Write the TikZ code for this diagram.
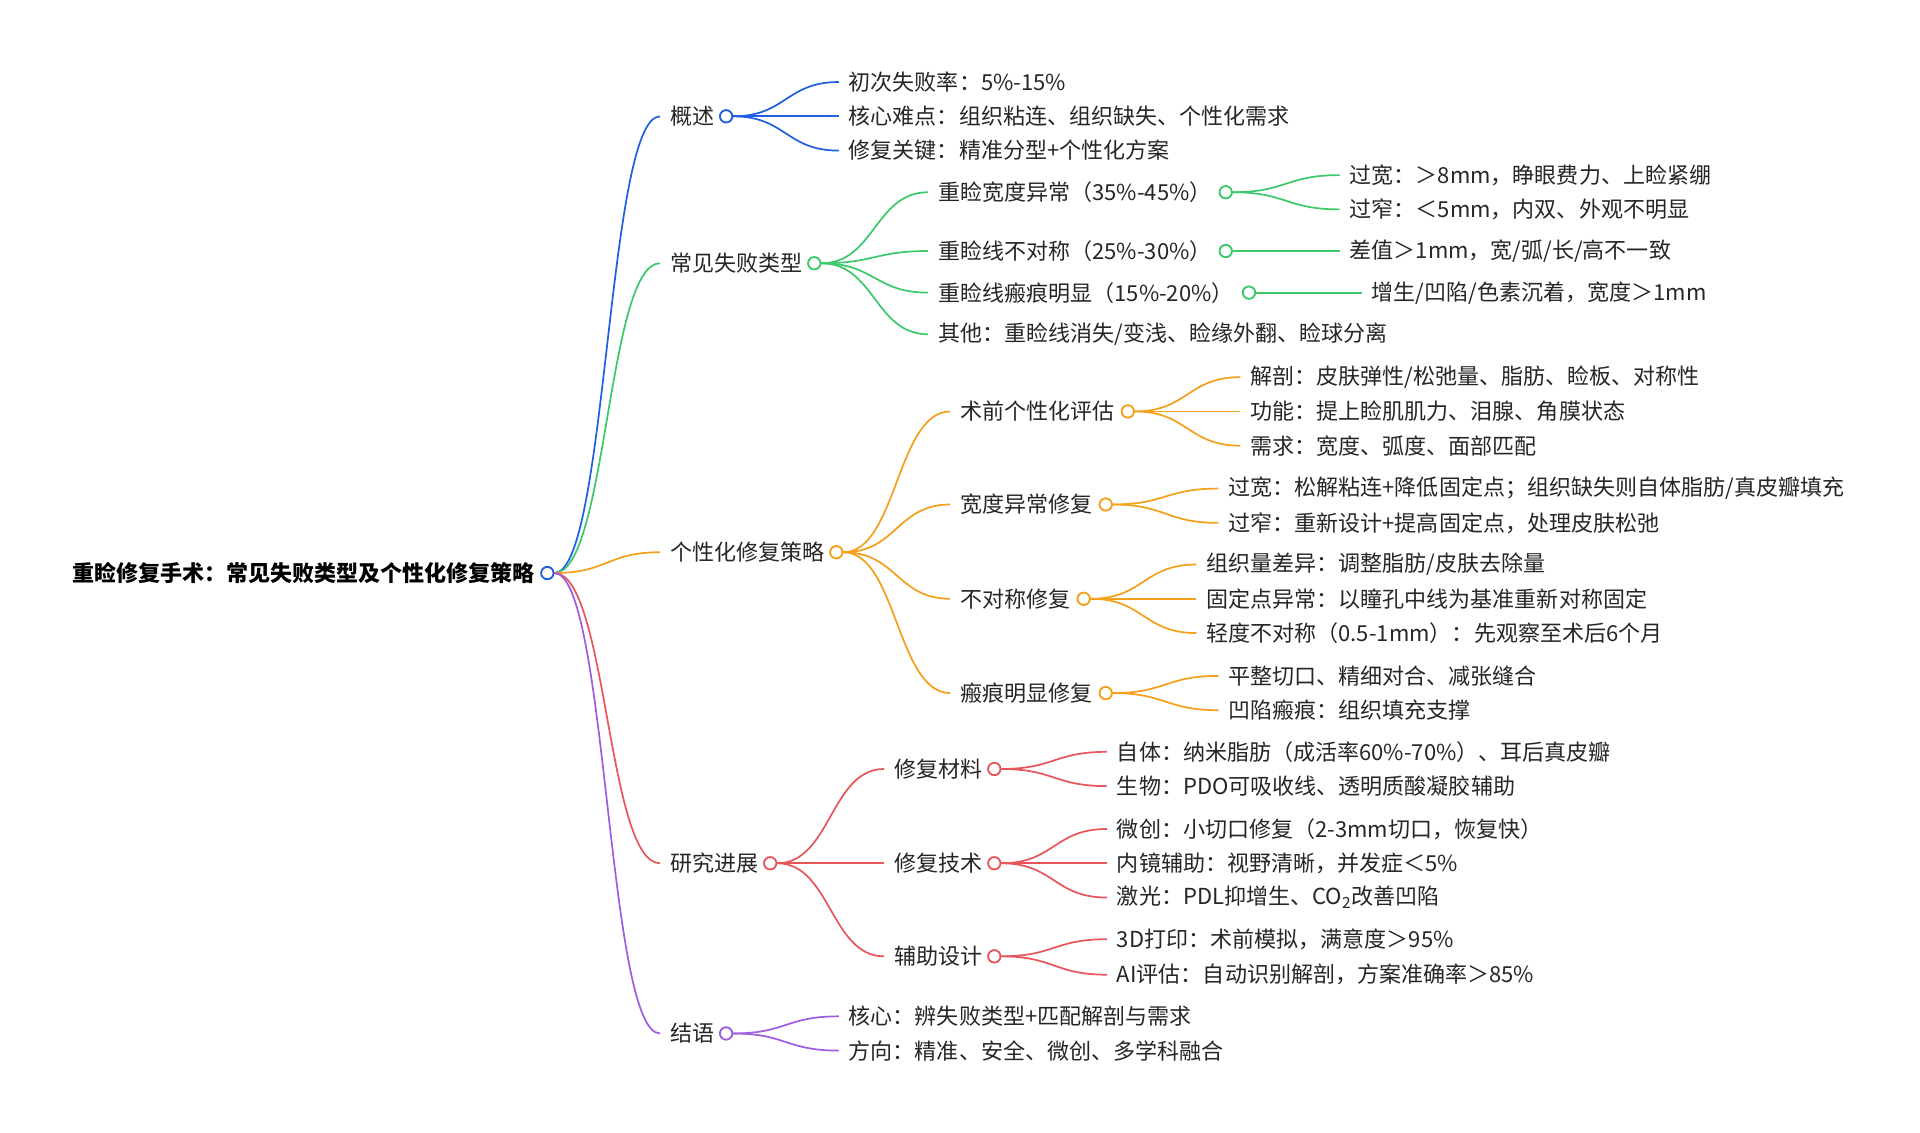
\documentclass[tikz,border=0pt]{standalone}
\usepackage{fontspec}
\usetikzlibrary{calc}
\setmainfont{Noto Sans CJK SC}
\definecolor{cb}{HTML}{1F5FE0}
\definecolor{cg}{HTML}{3CC96B}
\definecolor{co}{HTML}{F5A01A}
\definecolor{cr}{HTML}{E8565A}
\definecolor{cp}{HTML}{A05CE0}
\tikzset{
 lbl/.style={inner xsep=8pt,inner ysep=0pt,font=\fontsize{18}{21}\selectfont,text=black!85},
 dot/.style={circle,draw,fill=white,line width=1.4pt,minimum size=10pt,inner sep=0pt},
 conn/.style={line width=1.4pt}
}
\newcommand\leaf[5]{\node[lbl,anchor=west] (#1) at (#3-8,#4) {#5};
 \draw[conn] let \p1=(#2), \p2=(#1.west) in (\p1) .. controls ({0.5*\x1+0.5*\x2},\y1) and ({0.5*\x1+0.5*\x2},\y2) .. (\p2);}
\begin{document}
\begin{tikzpicture}[x=1pt,y=-1pt]
\useasboundingbox[fill=white] (0,0) rectangle (1568,925);
\node[lbl,anchor=east,font=\fontsize{18}{21}\selectfont\bfseries,text=black] (root) at (445,468) {重睑修复手术：常见失败类型及个性化修复策略};
\node[dot,draw=cb] (r) at (447,468) {};
\begin{scope}[draw=cb]
\leaf{a}{r.east}{547}{95}{概述}
\node[dot,draw=cb] (ac) at (593,95) {};
\leaf{a1}{ac.east}{693}{67}{初次失败率：5\%-15\%}
\leaf{a2}{ac.east}{693}{95}{核心难点：组织粘连、组织缺失、个性化需求}
\leaf{a3}{ac.east}{693}{123}{修复关键：精准分型+个性化方案}
\end{scope}
\begin{scope}[draw=cg]
\leaf{b}{r.east}{547}{215}{常见失败类型}
\node[dot,draw=cg] (bc) at (665,215) {};
\leaf{b1}{bc.east}{766}{157}{重睑宽度异常（35\%-45\%）}
\node[dot,draw=cg] (b1c) at (1001,157) {};
\leaf{b11}{b1c.east}{1102}{143}{过宽：＞8mm，睁眼费力、上睑紧绷}
\leaf{b12}{b1c.east}{1102}{171}{过窄：＜5mm，内双、外观不明显}
\leaf{b2}{bc.east}{766}{205}{重睑线不对称（25\%-30\%）}
\node[dot,draw=cg] (b2c) at (1001,205) {};
\leaf{b21}{b2c.east}{1102}{205}{差值＞1mm，宽/弧/长/高不一致}
\leaf{b3}{bc.east}{766}{239}{重睑线瘢痕明显（15\%-20\%）}
\node[dot,draw=cg] (b3c) at (1020,239) {};
\leaf{b31}{b3c.east}{1120}{239}{增生/凹陷/色素沉着，宽度＞1mm}
\leaf{b4}{bc.east}{766}{273}{其他：重睑线消失/变浅、睑缘外翻、睑球分离}
\end{scope}
\begin{scope}[draw=co]
\leaf{c}{r.east}{547}{451}{个性化修复策略}
\node[dot,draw=co] (cc) at (683,451) {};
\leaf{c1}{cc.east}{784}{336}{术前个性化评估}
\node[dot,draw=co] (c1c) at (921,336) {};
\leaf{c11}{c1c.east}{1021}{308}{解剖：皮肤弹性/松弛量、脂肪、睑板、对称性}
\leaf{c12}{c1c.east}{1021}{336}{功能：提上睑肌肌力、泪腺、角膜状态}
\leaf{c13}{c1c.east}{1021}{364}{需求：宽度、弧度、面部匹配}
\leaf{c2}{cc.east}{784}{412}{宽度异常修复}
\node[dot,draw=co] (c2c) at (903,412) {};
\leaf{c21}{c2c.east}{1003}{399}{过宽：松解粘连+降低固定点；组织缺失则自体脂肪/真皮瓣填充}
\leaf{c22}{c2c.east}{1003}{427}{过窄：重新设计+提高固定点，处理皮肤松弛}
\leaf{c3}{cc.east}{784}{489}{不对称修复}
\node[dot,draw=co] (c3c) at (885,489) {};
\leaf{c31}{c3c.east}{985}{461}{组织量差异：调整脂肪/皮肤去除量}
\leaf{c32}{c3c.east}{985}{489}{固定点异常：以瞳孔中线为基准重新对称固定}
\leaf{c33}{c3c.east}{985}{517}{轻度不对称（0.5-1mm）：先观察至术后6个月}
\leaf{c4}{cc.east}{784}{566}{瘢痕明显修复}
\node[dot,draw=co] (c4c) at (903,566) {};
\leaf{c41}{c4c.east}{1003}{552}{平整切口、精细对合、减张缝合}
\leaf{c42}{c4c.east}{1003}{580}{凹陷瘢痕：组织填充支撑}
\end{scope}
\begin{scope}[draw=cr]
\leaf{d}{r.east}{547}{705}{研究进展}
\node[dot,draw=cr] (dc) at (629,705) {};
\leaf{d1}{dc.east}{730}{628}{修复材料}
\node[dot,draw=cr] (d1c) at (812,628) {};
\leaf{d11}{d1c.east}{912}{614}{自体：纳米脂肪（成活率60\%-70\%）、耳后真皮瓣}
\leaf{d12}{d1c.east}{912}{642}{生物：PDO可吸收线、透明质酸凝胶辅助}
\leaf{d2}{dc.east}{730}{705}{修复技术}
\node[dot,draw=cr] (d2c) at (812,705) {};
\leaf{d21}{d2c.east}{912}{677}{微创：小切口修复（2-3mm切口，恢复快）}
\leaf{d22}{d2c.east}{912}{705}{内镜辅助：视野清晰，并发症＜5\%}
\leaf{d23}{d2c.east}{912}{733}{激光：PDL抑增生、CO\textsubscript{2}改善凹陷}
\leaf{d3}{dc.east}{730}{781}{辅助设计}
\node[dot,draw=cr] (d3c) at (812,781) {};
\leaf{d31}{d3c.east}{912}{767}{3D打印：术前模拟，满意度＞95\%}
\leaf{d32}{d3c.east}{912}{796}{AI评估：自动识别解剖，方案准确率＞85\%}
\end{scope}
\begin{scope}[draw=cp]
\leaf{e}{r.east}{547}{844}{结语}
\node[dot,draw=cp] (ec) at (593,844) {};
\leaf{e1}{ec.east}{693}{830}{核心：辨失败类型+匹配解剖与需求}
\leaf{e2}{ec.east}{693}{858}{方向：精准、安全、微创、多学科融合}
\end{scope}
\foreach \n/\c in {r/cb,ac/cb,bc/cg,b1c/cg,b2c/cg,b3c/cg,cc/co,c1c/co,c2c/co,c3c/co,c4c/co,dc/cr,d1c/cr,d2c/cr,d3c/cr,ec/cp}
 \node[dot,draw=\c] at (\n) {};
\end{tikzpicture}
\end{document}
